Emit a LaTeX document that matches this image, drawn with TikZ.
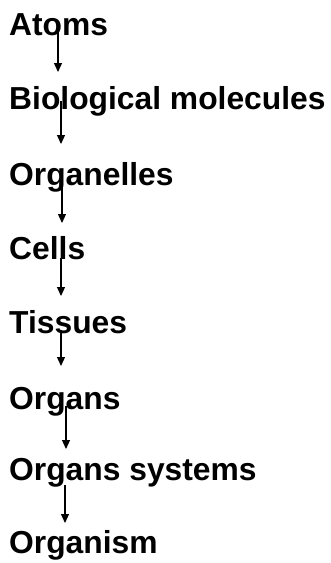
\documentclass[tikz,border=0pt]{standalone}
\usepackage{fontspec}
\setmainfont{Liberation Sans}
\usetikzlibrary{arrows.meta}
\begin{document}
\begin{tikzpicture}[
	x=1pt, y=-1pt,
	level/.style={ anchor=base west, inner sep=0pt, font=\fontsize{31.8}{38}\selectfont\bfseries },
	arrow/.style={ line width=1.2pt, -{Stealth[length=9pt,width=8pt,inset=0pt]} }
]
\useasboundingbox (0,0) rectangle (330,563);

\node at (9,35) (atoms) [level] {Atoms};
\node at (9,109) (biomol) [level] {Biological molecules};
\node at (9,185) (organelles) [level] {Organelles};
\node at (9,259) (cells) [level] {Cells};
\node at (9,333) (tissues) [level] {Tissues};
\node at (9,409) (organs) [level] {Organs};
\node at (9,480) (systems) [level] {Organs systems};
\node at (9,553) (organism) [level] {Organism};

\coordinate (s1) at (58,26);  \coordinate (e1) at (58,72);
\coordinate (s2) at (61,101); \coordinate (e2) at (61,144);
\coordinate (s3) at (62,185); \coordinate (e3) at (62,223);
\coordinate (s4) at (61,258); \coordinate (e4) at (61,296);
\coordinate (s5) at (61,330); \coordinate (e5) at (61,366);
\coordinate (s6) at (66,406); \coordinate (e6) at (66,449);
\coordinate (s7) at (65,485); \coordinate (e7) at (65,523);

\draw[arrow] (s1) -- (e1);
\draw[arrow] (s2) -- (e2);
\draw[arrow] (s3) -- (e3);
\draw[arrow] (s4) -- (e4);
\draw[arrow] (s5) -- (e5);
\draw[arrow] (s6) -- (e6);
\draw[arrow] (s7) -- (e7);

\end{tikzpicture}
\end{document}
